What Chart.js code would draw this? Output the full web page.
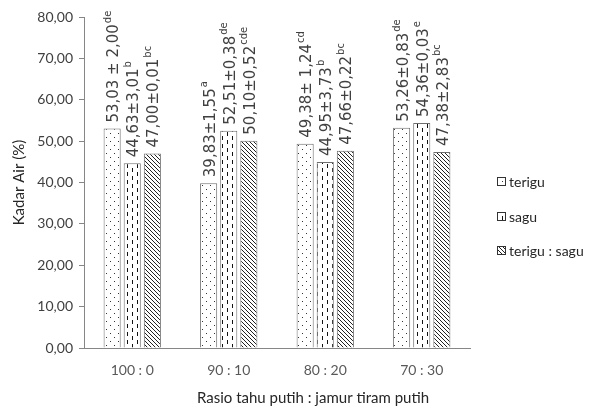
<!DOCTYPE html>
<html lang="id">
  <head>
    <meta charset="UTF-8" />
    <title>Kadar Air</title>
    <script src="https://cdn.jsdelivr.net/npm/chart.js@4.4.1/dist/chart.umd.min.js"></script>
    <style>
      body { margin: 0; background: #fff; }
    </style>
  </head>
  <body>
    <canvas id="airChart" width="589" height="414"></canvas>
    <script>
      // data
      const categories = ['100 : 0', '90 : 10', '80 : 20', '70 : 30'];
      const seriesNames = ['terigu', 'sagu', 'terigu : sagu'];
      const teriguValues = [53.03, 39.83, 49.38, 53.26];
      const saguValues = [44.63, 52.51, 44.95, 54.36];
      const campuranValues = [47.00, 50.10, 47.66, 47.38];
      // label di atas batang + huruf notasi
      const teriguLabels = ['53,03 ± 2,00', '39,83±1,55', '49,38± 1,24', '53,26±0,83'];
      const teriguNotasi = ['de', 'a', 'cd', 'de'];
      const saguLabels = ['44,63±3,01', '52,51±0,38', '44,95±3,73', '54,36±0,03'];
      const saguNotasi = ['b', 'de', 'b', 'e'];
      const campuranLabels = ['47,00±0,01', '50,10±0,52', '47,66±0,22', '47,38±2,83'];
      const campuranNotasi = ['bc', 'cde', 'bc', 'bc'];
      const yMin = 0, yMax = 80, yStep = 10;

      const axisColor = '#868686';
      const labelFont = '"Lato", "Open Sans", sans-serif';

      // pola isi batang
      function makePattern(type) {
        const c = document.createElement('canvas');
        const ctx = c.getContext('2d');
        if (type === 'dots') {
          c.width = 8; c.height = 8;
          ctx.fillStyle = '#fff';
          ctx.fillRect(0, 0, 8, 8);
          ctx.fillStyle = '#333';
          ctx.fillRect(2, 1, 1, 1);
          ctx.fillRect(6, 5, 1, 1);
        } else if (type === 'dash') {
          c.width = 10; c.height = 8;
          ctx.fillStyle = '#fff';
          ctx.fillRect(0, 0, 10, 8);
          ctx.fillStyle = '#111';
          ctx.fillRect(2, 0, 1, 4);
          ctx.fillRect(7, 4, 1, 4);
        } else {
          c.width = 4; c.height = 4;
          ctx.fillStyle = '#fff';
          ctx.fillRect(0, 0, 4, 4);
          ctx.strokeStyle = '#222';
          ctx.lineWidth = 1;
          ctx.beginPath();
          ctx.moveTo(-1, -1); ctx.lineTo(5, 5);
          ctx.moveTo(-1, 3); ctx.lineTo(1, 5);
          ctx.moveTo(3, -1); ctx.lineTo(5, 1);
          ctx.stroke();
        }
        return ctx.createPattern(c, 'repeat');
      }

      const patterns = [makePattern('dots'), makePattern('dash'), makePattern('hatch')];
      const allLabels = [teriguLabels, saguLabels, campuranLabels];
      const allNotasi = [teriguNotasi, saguNotasi, campuranNotasi];

      // tulisan tegak di atas batang
      const barLabelPlugin = {
        id: 'barLabels',
        afterDatasetsDraw(chart) {
          const ctx = chart.ctx;
          chart.data.datasets.forEach((ds, di) => {
            const meta = chart.getDatasetMeta(di);
            meta.data.forEach((bar, i) => {
              ctx.save();
              ctx.translate(bar.x + 2, bar.y - 6);
              ctx.rotate(-Math.PI / 2);
              ctx.fillStyle = '#404040';
              ctx.textBaseline = 'middle';
              ctx.textAlign = 'left';
              ctx.font = '15px "DejaVu Sans", sans-serif';
              const txt = allLabels[di][i];
              ctx.fillText(txt, 0, 0);
              const w = ctx.measureText(txt).width;
              ctx.font = '10px "DejaVu Sans", sans-serif';
              ctx.fillText(allNotasi[di][i], w + 1, -6);
              ctx.restore();
            });
          });
        }
      };

      // legenda dan judul sumbu x
      const legendPlugin = {
        id: 'customLegend',
        afterDraw(chart) {
          const ctx = chart.ctx;
          const ys = [181, 216, 250];
          ctx.save();
          seriesNames.forEach((name, i) => {
            ctx.fillStyle = patterns[i];
            ctx.fillRect(497, ys[i] - 4, 8, 8);
            ctx.strokeStyle = '#333';
            ctx.lineWidth = 1;
            ctx.strokeRect(497.5, ys[i] - 3.5, 8, 8);
            ctx.fillStyle = '#262626';
            ctx.font = '14px ' + labelFont;
            ctx.textBaseline = 'middle';
            ctx.textAlign = 'left';
            ctx.fillText(name, 509, ys[i] + 1);
          });
          ctx.font = '15px ' + labelFont;
          ctx.textAlign = 'center';
          ctx.fillStyle = '#262626';
          ctx.fillText('Rasio tahu putih : jamur tiram putih', 313, 398);
          ctx.restore();
        }
      };

      const datasetValues = [teriguValues, saguValues, campuranValues];

      new Chart(document.getElementById('airChart'), {
        type: 'bar',
        data: {
          labels: categories,
          datasets: seriesNames.map((name, i) => ({
            label: name,
            data: datasetValues[i],
            backgroundColor: patterns[i],
            borderColor: '#6e6e6e',
            borderWidth: 1,
            categoryPercentage: 0.625,
            barPercentage: 0.85
          }))
        },
        options: {
          responsive: false,
          animation: false,
          layout: { padding: { left: 0, right: 119, top: 17, bottom: 0 } },
          plugins: {
            legend: { display: false },
            tooltip: { enabled: false }
          },
          scales: {
            x: {
              grid: { display: false },
              border: { color: axisColor },
              ticks: { color: '#595959', font: { family: labelFont, size: 14 }, padding: 6 },
              afterFit: (scale) => { scale.height = 66; }
            },
            y: {
              min: yMin,
              max: yMax,
              grid: { drawOnChartArea: false, drawTicks: true, tickLength: 5, color: axisColor },
              border: { color: axisColor },
              ticks: {
                stepSize: yStep,
                color: '#404040',
                padding: 6,
                font: { family: labelFont, size: 14 },
                callback: (v) => v.toFixed(2).replace('.', ',')
              },
              title: {
                display: true,
                text: 'Kadar Air (%)',
                color: '#262626',
                font: { family: labelFont, size: 15 },
                padding: { top: 10, bottom: 0 }
              },
              afterFit: (scale) => { scale.width = 84; }
            }
          }
        },
        plugins: [barLabelPlugin, legendPlugin]
      });
    </script>
  </body>
</html>
